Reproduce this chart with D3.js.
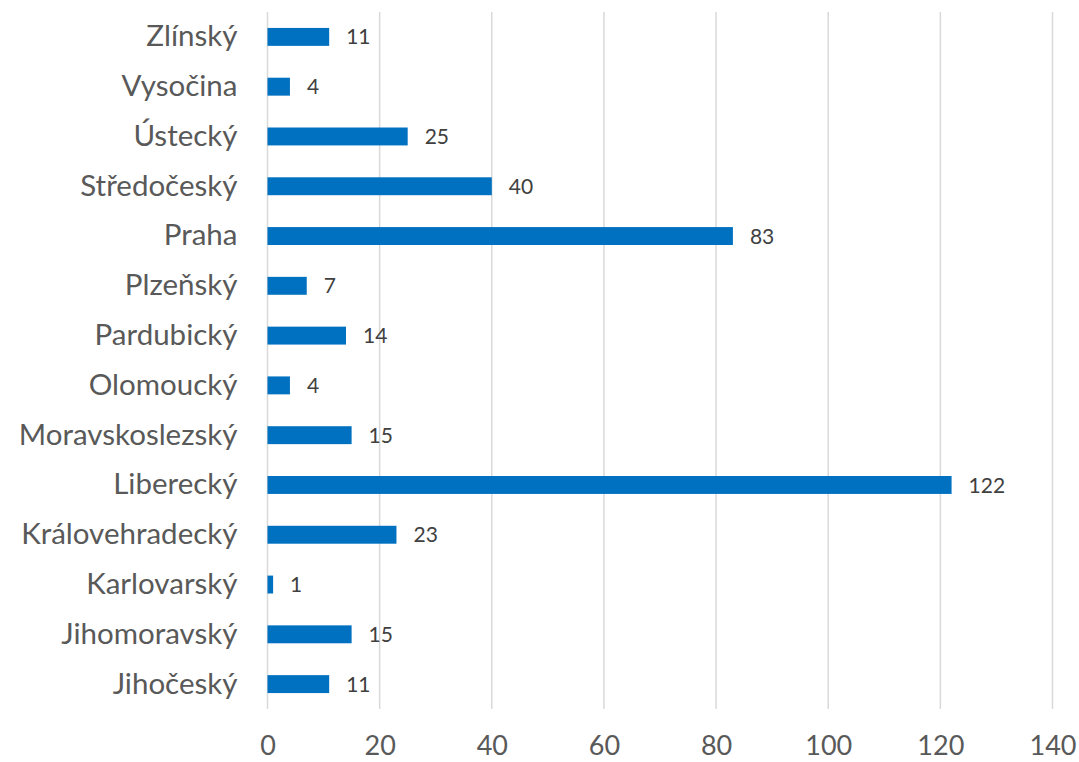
<!DOCTYPE html>
<html>
<head>
<meta charset="utf-8">
<script src="https://cdn.jsdelivr.net/npm/d3@7"></script>
<style>
  body { margin: 0; background: #fff; }
  svg { display: block; }
</style>
</head>
<body>
<svg id="chart" width="1079" height="762"></svg>
<script>
// Regions listed bottom-to-top as they appear on the axis
const regions = ["Jihočeský", "Jihomoravský", "Karlovarský", "Královehradecký", "Liberecký",
  "Moravskoslezský", "Olomoucký", "Pardubický", "Plzeňský", "Praha",
  "Středočeský", "Ústecký", "Vysočina", "Zlínský"];
const counts = [11, 15, 1, 23, 122, 15, 4, 14, 7, 83, 40, 25, 4, 11];
const xTicks = [0, 20, 40, 60, 80, 100, 120, 140];

const svg = d3.select("#chart");
const margin = { left: 267.5, right: 26.5, top: 12, bottom: 53 };
const W = 1079, H = 762;

const x = d3.scaleLinear().domain([0, 140]).range([margin.left, W - margin.right]);
const y = d3.scaleBand()
  .domain(regions.slice().reverse())
  .range([margin.top, H - margin.bottom])
  .paddingInner(0.64).paddingOuter(0.32);

const font = "Lato, 'Open Sans', sans-serif";
const textColor = "#595959";

// vertical gridlines
svg.append("g")
  .selectAll("line")
  .data(xTicks)
  .join("line")
  .attr("x1", d => x(d)).attr("x2", d => x(d))
  .attr("y1", margin.top).attr("y2", H - margin.bottom)
  .attr("stroke", "#d9d9d9").attr("stroke-width", 1.5);

// bars
svg.append("g")
  .selectAll("rect")
  .data(regions.map((r, i) => ({ r, v: counts[i] })))
  .join("rect")
  .attr("x", x(0))
  .attr("y", d => y(d.r))
  .attr("width", d => x(d.v) - x(0))
  .attr("height", y.bandwidth())
  .attr("fill", "#0070c0");

// value labels
svg.append("g")
  .selectAll("text")
  .data(regions.map((r, i) => ({ r, v: counts[i] })))
  .join("text")
  .attr("x", d => x(d.v) + 17)
  .attr("y", d => y(d.r) + y.bandwidth() / 2)
  .attr("dy", "0.36em")
  .attr("font-family", font)
  .attr("font-size", 21)
  .attr("fill", "#404040")
  .text(d => d.v);

// category axis
const yAxis = d3.axisLeft(y).tickSize(0).tickPadding(30);
const ya = svg.append("g")
  .attr("transform", `translate(${margin.left},0)`)
  .call(yAxis);
ya.select(".domain").remove();
ya.selectAll("text")
  .attr("font-family", font)
  .attr("font-size", 29.5)
  .attr("fill", textColor);

// value axis
const xAxis = d3.axisBottom(x).tickValues(xTicks).tickSize(0).tickPadding(27);
const xa = svg.append("g")
  .attr("transform", `translate(0,${H - margin.bottom})`)
  .call(xAxis);
xa.select(".domain").remove();
xa.selectAll("text")
  .attr("font-family", font)
  .attr("font-size", 27)
  .attr("fill", textColor);
</script>
</body>
</html>
